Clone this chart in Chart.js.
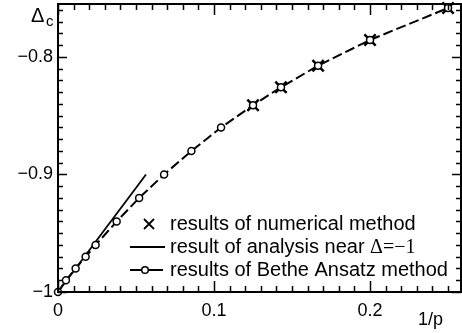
<!DOCTYPE html>
<html>
<head>
<meta charset="utf-8">
<script src="https://cdn.jsdelivr.net/npm/chart.js@4/dist/chart.umd.min.js"></script>
<style>
  html, body { margin: 0; padding: 0; background: #fff; }
  #wrap { width: 462px; height: 333px; }
</style>
</head>
<body>
<div id="wrap"><canvas id="chart"></canvas></div>
<script>
// Bethe Ansatz curve (circles, dashed)
const baX = [0, 0.0051, 0.0113, 0.0177, 0.0241, 0.0376, 0.052, 0.068, 0.0855, 0.1045, 0.125, 0.1429, 0.1667, 0.2, 0.25];
const baY = [-1, -0.99, -0.98, -0.97, -0.96, -0.94, -0.92, -0.90, -0.88, -0.86, -0.841, -0.8257, -0.8074, -0.7855, -0.7583];
// numerical results (crosses)
const numX = [0.125, 0.1429, 0.1667, 0.2, 0.25];
const numY = [-0.841, -0.8257, -0.8074, -0.7855, -0.7583];
// analysis near Delta = -1 (straight line)
const anaX = [0, 0.0564];
const anaY = [-1, -0.9];

const xTicks = [0, 0.1, 0.2];
const yTicks = [-1, -0.9, -0.8];
const legendLabels = ['results of numerical method', 'result of analysis near ', 'results of Bethe Ansatz method'];

const SANS = "'Liberation Sans', Arial, Helvetica, sans-serif";
const SERIF = "'Liberation Serif', 'Times New Roman', serif";

const toPts = (xs, ys) => xs.map((x, i) => ({ x: x, y: ys[i] }));
const fmt = v => {
  const r = Math.round(v * 10) / 10;
  if (r === 0) return '0';
  return (r < 0 ? '\u2212' : '') + String(Math.abs(r));
};

// frame, inward ticks, axis titles and legend
const decorations = {
  id: 'decorations',
  afterDatasetsDraw(chart) {
    const { ctx, chartArea: a, scales: { x, y } } = chart;
    ctx.save();
    ctx.strokeStyle = '#000';
    ctx.lineWidth = 2;
    ctx.strokeRect(a.left, a.top, a.right - a.left, a.bottom - a.top);

    ctx.lineWidth = 1.5;
    ctx.beginPath();
    for (let i = 0; i <= 25; i++) {
      const v = i / 100;
      const px = Math.round(x.getPixelForValue(v)) + 0.5;
      const len = (i % 10 === 0) ? 11 : 6;
      ctx.moveTo(px, a.bottom); ctx.lineTo(px, a.bottom - len);
      ctx.moveTo(px, a.top); ctx.lineTo(px, a.top + len);
    }
    for (let i = 0; i <= 24; i++) {
      const v = -1 + i / 100;
      const py = Math.round(y.getPixelForValue(v)) + 0.5;
      const len = (i % 10 === 0) ? 9 : 5;
      ctx.moveTo(a.left, py); ctx.lineTo(a.left + len, py);
      ctx.moveTo(a.right, py); ctx.lineTo(a.right - len, py);
    }
    ctx.stroke();

    // axis titles
    ctx.fillStyle = '#000';
    ctx.textBaseline = 'alphabetic';
    ctx.textAlign = 'left';
    ctx.font = '20px ' + SANS;
    ctx.fillText('\u0394', 31, 22);
    ctx.font = '15px ' + SANS;
    ctx.fillText('c', 46, 26);
    ctx.font = '18px ' + SANS;
    ctx.fillText('1/p', 418, 325);

    // legend
    const lx0 = 130, lx1 = 165, tx = 170;
    const rows = [224, 247, 270];
    ctx.font = '20px ' + SANS;
    legendLabels.forEach((t, i) => ctx.fillText(t, tx, rows[i] + 6));
    const w = ctx.measureText(legendLabels[1]).width;
    ctx.font = '20px ' + SERIF;
    ctx.fillText('\u0394=\u22121', tx + w, rows[1] + 6);

    ctx.lineWidth = 1.8;
    ctx.beginPath();
    ctx.moveTo(149 - 5, rows[0] - 5); ctx.lineTo(149 + 5, rows[0] + 5);
    ctx.moveTo(149 + 5, rows[0] - 5); ctx.lineTo(149 - 5, rows[0] + 5);
    ctx.moveTo(lx0, rows[1]); ctx.lineTo(lx1, rows[1]);
    ctx.moveTo(lx0, rows[2]); ctx.lineTo(lx1 - 2, rows[2]);
    ctx.stroke();
    ctx.beginPath();
    ctx.fillStyle = '#fff';
    ctx.lineWidth = 1.5;
    ctx.arc(145, rows[2], 3.3, 0, Math.PI * 2);
    ctx.fill();
    ctx.stroke();
    ctx.restore();
  }
};

new Chart(document.getElementById('chart'), {
  type: 'scatter',
  data: {
    datasets: [
      {
        label: legendLabels[2],
        data: toPts(baX, baY),
        showLine: true,
        borderColor: '#000',
        borderWidth: 2,
        borderDash: [10, 4],
        pointStyle: 'circle',
        pointRadius: 3.5,
        pointBorderWidth: 1.5,
        pointBackgroundColor: '#fff',
        pointBorderColor: '#000',
        clip: false
      },
      {
        label: legendLabels[1],
        data: toPts(anaX, anaY),
        showLine: true,
        borderColor: '#000',
        borderWidth: 1.8,
        pointRadius: 0,
        clip: false
      },
      {
        label: legendLabels[0],
        data: toPts(numX, numY),
        showLine: false,
        pointStyle: 'crossRot',
        pointRadius: 8,
        pointBorderWidth: 2.5,
        pointBorderColor: '#000',
        clip: false
      }
    ]
  },
  options: {
    responsive: true,
    maintainAspectRatio: false,
    animation: false,
    events: [],
    layout: { autoPadding: false, padding: { top: 4, right: 1, left: 0, bottom: 0 } },
    plugins: {
      legend: { display: false },
      tooltip: { enabled: false }
    },
    scales: {
      x: {
        type: 'linear',
        min: 0,
        max: 0.2583,
        afterFit(s) { s.height = 41; s.paddingLeft = 0; s.paddingRight = 0; },
        afterBuildTicks(s) { s.ticks = xTicks.map(v => ({ value: v })); },
        grid: { display: false, drawTicks: false },
        border: { display: false },
        ticks: { color: '#000', padding: 8, font: { family: SANS, size: 18 }, callback: v => fmt(v), maxRotation: 0 }
      },
      y: {
        type: 'linear',
        min: -1,
        max: -0.7549,
        afterFit(s) { s.width = 58; s.paddingTop = 0; s.paddingBottom = 0; },
        afterBuildTicks(s) { s.ticks = yTicks.map(v => ({ value: v })); },
        grid: { display: false, drawTicks: false },
        border: { display: false },
        ticks: { color: '#000', padding: 5, font: { family: SANS, size: 18 }, callback: v => fmt(v) }
      }
    }
  },
  plugins: [decorations]
});
</script>
</body>
</html>
